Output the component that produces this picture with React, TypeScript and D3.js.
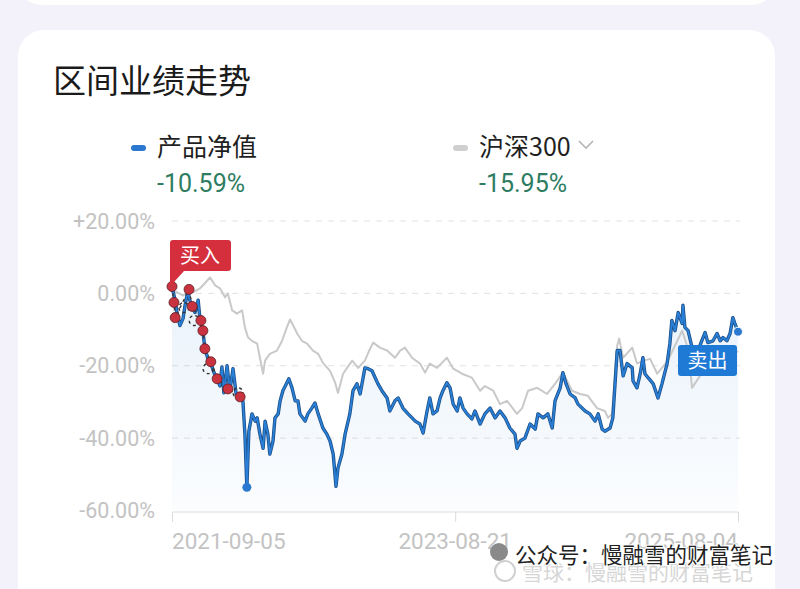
import React, { useEffect, useRef } from "react";
import * as d3 from "d3";

// days since 2021-09-05, cumulative return %
const navSeries: [number, number][] = [
  [0, 1.7], [8, -1.9], [13, -5.6], [20, -8.9], [28, -6.9], [33, -3.3], [40, 0.8], [45, -1.9],
  [51, -3.6], [58, -5.3], [66, -1.9], [71, -7.5], [78, -10.3], [83, -15.3], [91, -18.1], [98, -19.2],
  [106, -21.9], [114, -23.6], [121, -25.6], [126, -20.3], [131, -27.5], [139, -20], [146, -26.9],
  [154, -20.8], [162, -27.8], [172, -28.6], [179, -29.7], [184, -38.6], [189, -53.6], [194, -38.1],
  [202, -33.3], [210, -35.3], [215, -34.4], [222, -38.9], [230, -42.8], [235, -35.3], [242, -38.9],
  [247, -44.4], [255, -40.8], [260, -34.4], [268, -33.3], [273, -29.7], [280, -26.9], [290, -24.7],
  [295, -23.6], [303, -26.1], [311, -29.7], [318, -29.7], [323, -33.3], [336, -35.3], [343, -33.3],
  [353, -31.7], [361, -30.3], [369, -33.3], [381, -37.2], [391, -38.9], [399, -40.8], [407, -44.4],
  [414, -53.3], [419, -48.3], [429, -44.4], [437, -38.9], [449, -33.3], [457, -26.9], [467, -25],
  [475, -27.8], [487, -20.6], [495, -20.8], [505, -21.4], [513, -23.3], [520, -25], [530, -26.9],
  [543, -28.9], [550, -32.5], [563, -29.7], [571, -28.9], [583, -31.7], [596, -33.3], [606, -34.4],
  [614, -35.3], [626, -36.1], [634, -38.6], [644, -32.5], [651, -28.9], [659, -33.3], [669, -32.5],
  [677, -28.9], [684, -26.9], [694, -24.7], [702, -26.1], [710, -30.6], [720, -32.5], [727, -28.9],
  [735, -31.7], [745, -33.3], [757, -34.7], [765, -32.5], [778, -36.1], [790, -33.3], [803, -31.7],
  [816, -34.4], [828, -32.5], [841, -34.4], [853, -37.2], [866, -38.9], [871, -42.8], [879, -40.8],
  [891, -40], [904, -36.1], [917, -37.5], [924, -33.3], [937, -34.4], [949, -33.3], [960, -37.2],
  [967, -29.7], [980, -26.1], [987, -21.9], [995, -25], [1005, -27.8], [1018, -28.9], [1025, -30.6],
  [1043, -32.5], [1055, -33.3], [1068, -35.3], [1076, -33.3], [1086, -37.5], [1093, -38.1],
  [1106, -37.2], [1113, -34.4], [1119, -24.2], [1124, -15.8], [1131, -15.8], [1139, -22.8],
  [1149, -19.4], [1162, -20.6], [1164, -24.2], [1174, -26.1], [1182, -22.2], [1189, -17.8],
  [1194, -22.2], [1202, -23.3], [1215, -25], [1227, -28.9], [1237, -25], [1250, -19.4], [1257, -13.9],
  [1262, -7.5], [1270, -10.3], [1278, -5.3], [1288, -8.3], [1290, -3.3], [1295, -9.4], [1303, -10.3],
  [1313, -15], [1321, -18.6], [1333, -14.4], [1346, -10.8], [1353, -13.6], [1366, -13.1],
  [1376, -11.1], [1384, -13.1], [1391, -12.2], [1401, -13.1], [1409, -11.1], [1416, -6.7],
  [1421, -8.3], [1429, -10.59],
];

const csi300Series: [number, number][] = [
  [0, 0.8], [13, 0.3], [28, -0.6], [40, 0.6], [53, 0.3], [71, 1.4], [83, 2.8], [96, 4.4], [109, 2.2],
  [121, 1.4], [134, -1.1], [141, 0], [152, -4.7], [164, -5.6], [177, -4.7], [184, -9.4], [192, -12.2],
  [202, -13.1], [215, -13.9], [222, -17.8], [230, -22.2], [235, -18.6], [247, -16.7], [265, -15.8],
  [278, -13.1], [290, -9.4], [298, -7.2], [306, -8.9], [316, -11.1], [328, -13.1], [341, -13.9],
  [356, -15.8], [369, -16.7], [381, -19.2], [399, -21.4], [412, -24.7], [419, -27.5], [432, -22.2],
  [442, -20.6], [455, -18.6], [470, -20.6], [487, -18.6], [500, -15.3], [508, -13.6], [525, -15],
  [543, -15.8], [563, -17.8], [576, -15.8], [588, -15], [606, -17.8], [626, -19.4], [639, -21.9],
  [651, -19.4], [669, -20.6], [694, -17.8], [710, -20.8], [732, -22.2], [757, -23.3], [778, -26.9],
  [790, -25.6], [811, -26.9], [828, -30.6], [846, -29.7], [871, -33.3], [884, -31.7], [899, -26.9],
  [922, -26.1], [947, -27.8], [967, -25], [987, -21.9], [1010, -26.9], [1030, -27.8], [1050, -28.3],
  [1073, -31.7], [1093, -32.5], [1101, -34.4], [1111, -33.3], [1124, -14.4], [1129, -12.5],
  [1139, -17.8], [1162, -15], [1174, -19.4], [1189, -18.6], [1207, -18.1], [1225, -22.2],
  [1237, -20.6], [1252, -18.6], [1270, -14.4], [1288, -10.3], [1303, -15.3], [1313, -26.1],
  [1333, -22.8], [1358, -20], [1384, -19.4], [1409, -17.8], [1429, -15.95],
];

// buy markers (day, value); some drawn half-hidden
const buyPoints: [number, number][] = [
  [0, 1.9], [5, -2.5], [8, -6.7], [43, 1.1], [51, -3.6], [73, -7.5], [78, -10.3], [83, -15.3],
  [98, -18.9], [114, -23.6], [141, -26.4], [172, -28.6],
];
const buyFaint: [number, number][] = [[30, -3.9], [56, -7.5], [91, -20.8], [167, -27.5]];

const yTicks = [20, 0, -20, -40, -60];
const yTickLabels = ["+20.00%", "0.00%", "-20.00%", "-40.00%", "-60.00%"];
const xTickLabels = ["2021-09-05", "2023-08-21", "2025-08-04"];

const legendNames = ["产品净值", "沪深300"];
const legendValues = ["-10.59%", "-15.95%"];

const CJK = "'Noto Sans CJK SC', 'Noto Sans', sans-serif";
const NUM = "Roboto, 'Noto Sans', sans-serif";

const App = () => {
  const svgRef = useRef<SVGSVGElement>(null);

  useEffect(() => {
    document.body.style.margin = "0";
    document.body.style.overflow = "hidden";
    const svg = d3.select(svgRef.current);
    svg.selectAll("*").remove();

    const start = new Date(2021, 8, 5);
    const end = new Date(2025, 7, 4);
    const day = (d: number) => d3.timeDay.offset(start, d);

    const x = d3.scaleTime().domain([start, end]).range([172, 738]);
    const y = d3.scaleLinear().domain([-60, 20]).range([510.5, 221]);

    // page + cards
    svg.append("rect").attr("width", 800).attr("height", 589).attr("fill", "#f3f2fa");
    svg.append("rect").attr("x", 18).attr("y", -40).attr("width", 757).attr("height", 45)
      .attr("rx", 24).attr("fill", "#fffffd");
    svg.append("rect").attr("x", 18).attr("y", 30).attr("width", 757).attr("height", 600)
      .attr("rx", 26).attr("fill", "#ffffff");

    svg.append("text").attr("x", 53).attr("y", 93).attr("font-family", CJK)
      .attr("font-size", 33).attr("fill", "#1b1b1b").text("区间业绩走势");

    // legend
    const lx = [157, 479];
    const lcol = ["#2a78d0", "#cfcfcf"];
    legendNames.forEach((name, i) => {
      svg.append("rect").attr("x", lx[i] - 26).attr("y", 145).attr("width", 15).attr("height", 6)
        .attr("rx", 3).attr("fill", lcol[i]);
      svg.append("text").attr("x", lx[i]).attr("y", 156).attr("font-family", CJK)
        .attr("font-size", 25).attr("fill", "#1f1f1f").text(name);
      svg.append("text").attr("x", lx[i]).attr("y", 192).attr("font-family", NUM)
        .attr("font-size", 25).attr("fill", "#2e7d62").text(legendValues[i]);
    });
    svg.append("path").attr("d", "M579,141 L586,148 L593,141").attr("fill", "none")
      .attr("stroke", "#b5b5b5").attr("stroke-width", 1.6);

    // grid
    yTicks.forEach((t, i) => {
      if (t > -60) {
        svg.append("line").attr("x1", 172).attr("x2", 740).attr("y1", y(t)).attr("y2", y(t))
          .attr("stroke", "#e2e2e2").attr("stroke-dasharray", "6,6");
      }
      svg.append("text").attr("x", 155).attr("y", y(t)).attr("dy", "0.36em")
        .attr("text-anchor", "end").attr("font-family", NUM).attr("font-size", 21.5)
        .attr("fill", "#c3c3c3").text(yTickLabels[i]);
    });

    // x axis
    const xAxis = svg.append("g").attr("transform", "translate(0,512)")
      .call(d3.axisBottom(x).tickValues(xTickLabels.map((s) => d3.timeParse("%Y-%m-%d")(s) as Date))
        .tickSize(10).tickFormat(() => ""));
    xAxis.select(".domain").attr("stroke", "#dcdcdc").attr("d", "M172.5,0H738.5");
    xAxis.selectAll(".tick line").attr("stroke", "#dcdcdc");
    xTickLabels.forEach((s, i) => {
      const d = d3.timeParse("%Y-%m-%d")(s) as Date;
      svg.append("text").attr("x", x(d)).attr("y", 549)
        .attr("text-anchor", i === 0 ? "start" : i === 1 ? "middle" : "end")
        .attr("font-family", NUM).attr("font-size", 22.5).attr("fill", "#c3c3c3").text(s);
    });

    // area under product line
    const grad = svg.append("defs").append("linearGradient").attr("id", "navFill")
      .attr("x1", 0).attr("x2", 0).attr("y1", 0).attr("y2", 1);
    grad.append("stop").attr("offset", "0%").attr("stop-color", "#2a7fd4").attr("stop-opacity", 0.1);
    grad.append("stop").attr("offset", "100%").attr("stop-color", "#2a7fd4").attr("stop-opacity", 0.02);

    const area = d3.area<[number, number]>().x((d) => x(day(d[0]))).y0(y(-60)).y1((d) => y(d[1]));
    svg.append("path").datum(navSeries).attr("d", area).attr("fill", "url(#navFill)");

    const line = d3.line<[number, number]>().x((d) => x(day(d[0]))).y((d) => y(d[1]));
    svg.append("path").datum(csi300Series).attr("d", line).attr("fill", "none")
      .attr("stroke", "#c9c9c9").attr("stroke-width", 2).attr("stroke-linejoin", "round");
    svg.append("path").datum(navSeries).attr("d", line).attr("fill", "none")
      .attr("stroke", "#1c4f86").attr("stroke-width", 3.4).attr("stroke-linejoin", "round");
    svg.append("path").datum(navSeries).attr("d", line).attr("fill", "none")
      .attr("stroke", "#2a80d8").attr("stroke-width", 1.8).attr("stroke-linejoin", "round");

    // buy markers
    svg.append("path").datum(buyPoints).attr("d", line).attr("fill", "none")
      .attr("stroke", "#3a3a3a").attr("stroke-width", 1.5).attr("stroke-dasharray", "3,4");
    svg.selectAll(".faint").data(buyFaint).join("circle").attr("class", "faint")
      .attr("cx", (d) => x(day(d[0]))).attr("cy", (d) => y(d[1])).attr("r", 5)
      .attr("fill", "none").attr("stroke", "#333").attr("stroke-width", 1.4)
      .attr("stroke-dasharray", "3,3");
    svg.selectAll(".buy").data(buyPoints).join("circle").attr("class", "buy")
      .attr("cx", (d) => x(day(d[0]))).attr("cy", (d) => y(d[1])).attr("r", 5)
      .attr("fill", "#c9323f").attr("stroke", "#5a1a1f").attr("stroke-width", 0.8);

    // buy label
    const b0 = buyPoints[0];
    const bx = x(day(b0[0]));
    const by = y(b0[1]);
    svg.append("path")
      .attr("d", `M${bx - 2},${by} L${bx - 2},243 Q${bx - 2},240 ${bx + 1},240 L228,240 Q231,240 231,243 L231,268 Q231,271 228,271 L${bx + 12},271 Z`)
      .attr("fill", "#d52f3d");
    svg.append("text").attr("x", 200).attr("y", 263).attr("text-anchor", "middle")
      .attr("font-family", CJK).attr("font-size", 20).attr("fill", "#ffffff").text("买入");

    // min point
    const minPt = navSeries.reduce((a, b) => (b[1] < a[1] ? b : a));
    svg.append("circle").attr("cx", x(day(minPt[0]))).attr("cy", y(minPt[1])).attr("r", 4.5)
      .attr("fill", "#2a78d0");

    // sell label + last point
    const last = navSeries[navSeries.length - 1];
    svg.append("rect").attr("x", 678).attr("y", 345).attr("width", 59).attr("height", 31)
      .attr("rx", 3).attr("fill", "#1f7ad6");
    svg.append("text").attr("x", 707.5).attr("y", 368).attr("text-anchor", "middle")
      .attr("font-family", CJK).attr("font-size", 20).attr("fill", "#ffffff").text("卖出");
    svg.append("circle").attr("cx", x(day(last[0]))).attr("cy", y(last[1])).attr("r", 4.5)
      .attr("fill", "#2a78d0").attr("stroke", "#ffffff").attr("stroke-width", 1);

    // watermark
    svg.append("circle").attr("cx", 499).attr("cy", 552).attr("r", 9).attr("fill", "#8a8a8a");
    svg.append("circle").attr("cx", 505).attr("cy", 571).attr("r", 10).attr("fill", "none")
      .attr("stroke", "#d0d0d0").attr("stroke-width", 2);
    svg.append("text").attr("x", 522).attr("y", 580).attr("font-family", CJK).attr("font-size", 21)
      .attr("fill", "#d6d6d6").text("雪球：慢融雪的财富笔记");
    svg.append("text").attr("x", 515).attr("y", 563).attr("font-family", CJK).attr("font-size", 21.5)
      .attr("fill", "#222").attr("stroke", "#ffffff").attr("stroke-width", 2)
      .attr("paint-order", "stroke").text("公众号：慢融雪的财富笔记");
  }, []);

  return <svg ref={svgRef} width={800} height={589} style={{ display: "block" }} />;
};

export default App;
